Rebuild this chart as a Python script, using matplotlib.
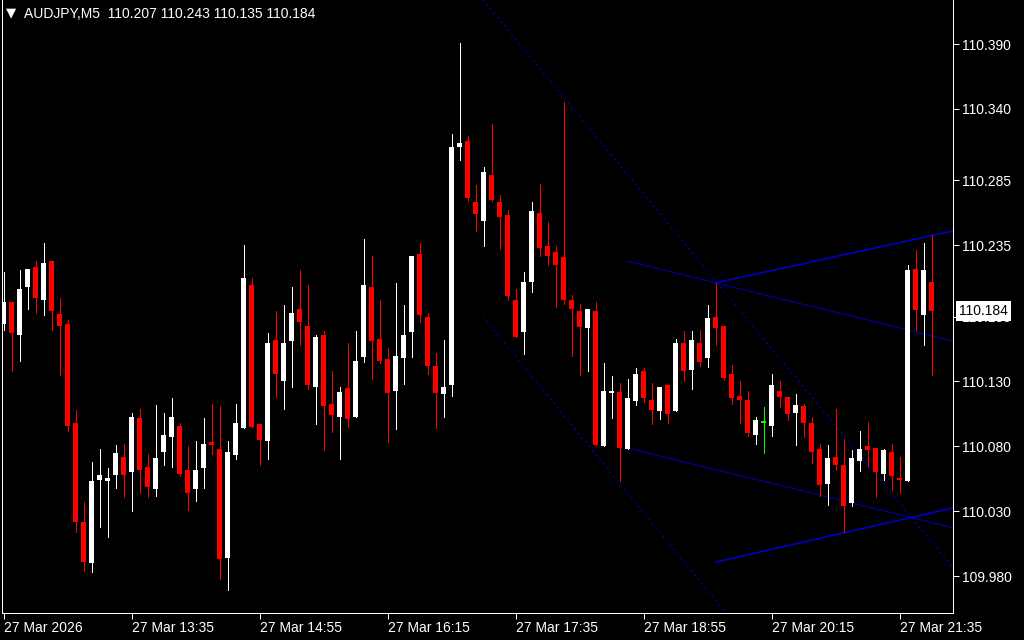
"""
AUDJPY M5 candlestick chart, MetaTrader style (black background).
"""

import numpy as np
import matplotlib
matplotlib.use("Agg")
import matplotlib.pyplot as plt
import matplotlib.transforms as mtransforms

plt.rcParams["font.family"] = ["Liberation Sans", "DejaVu Sans"]

# ── Data: 5-minute candles, 27 Mar 12:15 → 21:55 ─────────────────────────────
SYMBOL = "AUDJPY,M5"

OPEN = [
    110.174, 110.191, 110.166, 110.203, 110.218, 110.193, 110.223, 110.182, 110.174, 110.098,
    110.022, 109.990, 110.054, 110.053, 110.058, 110.072, 110.060, 110.102, 110.064, 110.047,
    110.076, 110.087, 110.096, 110.062, 110.047, 110.063, 110.083, 110.078, 109.994, 110.073,
    110.094, 110.204, 110.097, 110.084, 110.162, 110.130, 110.161, 110.186, 110.173, 110.126,
    110.166, 110.113, 110.103, 110.125, 110.103, 110.149, 110.203, 110.163, 110.147, 110.123,
    110.148, 110.168, 110.228, 110.180, 110.142, 110.120, 110.127, 110.311, 110.315, 110.268,
    110.254, 110.289, 110.268, 110.258, 110.193, 110.168, 110.207, 110.260, 110.234, 110.230,
    110.226, 110.193, 110.184, 110.171, 110.184, 110.080, 110.121, 110.122, 110.078, 110.115,
    110.138, 110.116, 110.107, 110.127, 110.107, 110.160, 110.139, 110.160, 110.148, 110.180,
    110.173, 110.136, 110.119, 110.116, 110.089, 110.099, 110.096, 110.123, 110.118, 110.106,
    110.111, 110.098, 110.078, 110.051, 110.072, 110.066, 110.036, 110.069, 110.080, 110.079,
    110.059, 110.076, 110.056, 110.053, 110.217, 110.181, 110.207,
]
HIGH = [
    110.214, 110.191, 110.216, 110.217, 110.223, 110.237, 110.223, 110.194, 110.177, 110.108,
    110.037, 110.068, 110.078, 110.063, 110.081, 110.082, 110.106, 110.109, 110.074, 110.112,
    110.106, 110.117, 110.098, 110.080, 110.084, 110.102, 110.113, 110.111, 110.084, 110.113,
    110.235, 110.210, 110.097, 110.167, 110.184, 110.189, 110.203, 110.216, 110.204, 110.166,
    110.169, 110.138, 110.126, 110.160, 110.169, 110.240, 110.227, 110.193, 110.156, 110.206,
    110.189, 110.227, 110.237, 110.183, 110.152, 110.162, 110.321, 110.391, 110.319, 110.281,
    110.295, 110.328, 110.274, 110.262, 110.201, 110.214, 110.268, 110.282, 110.253, 110.234,
    110.345, 110.197, 110.190, 110.186, 110.191, 110.144, 110.134, 110.129, 110.132, 110.140,
    110.140, 110.129, 110.126, 110.127, 110.163, 110.169, 110.169, 110.170, 110.189, 110.206,
    110.173, 110.143, 110.130, 110.123, 110.103, 110.110, 110.136, 110.130, 110.118, 110.120,
    110.113, 110.103, 110.082, 110.081, 110.109, 110.086, 110.077, 110.092, 110.099, 110.079,
    110.078, 110.082, 110.072, 110.220, 110.231, 110.237, 110.243,
]
LOW = [
    110.170, 110.138, 110.146, 110.186, 110.183, 110.181, 110.170, 110.135, 110.092, 110.014,
    109.984, 109.983, 110.018, 110.010, 110.048, 110.041, 110.030, 110.044, 110.041, 110.042,
    110.066, 110.064, 110.057, 110.031, 110.038, 110.048, 110.074, 109.978, 109.969, 110.070,
    110.094, 110.095, 110.066, 110.070, 110.118, 110.109, 110.126, 110.158, 110.124, 110.097,
    110.077, 110.091, 110.070, 110.095, 110.103, 110.145, 110.132, 110.144, 110.083, 110.093,
    110.128, 110.149, 110.176, 110.136, 110.094, 110.103, 110.119, 110.301, 110.269, 110.246,
    110.234, 110.269, 110.232, 110.193, 110.164, 110.151, 110.199, 110.227, 110.220, 110.187,
    110.190, 110.150, 110.135, 110.138, 110.081, 110.080, 110.102, 110.053, 110.078, 110.112,
    110.114, 110.097, 110.101, 110.098, 110.107, 110.130, 110.124, 110.142, 110.141, 110.158,
    110.131, 110.113, 110.098, 110.088, 110.082, 110.075, 110.088, 110.110, 110.100, 110.081,
    110.087, 110.067, 110.042, 110.035, 110.062, 110.014, 110.034, 110.061, 110.065, 110.041,
    110.054, 110.046, 110.044, 110.053, 110.170, 110.158, 110.135,
]
CLOSE = [
    110.191, 110.167, 110.201, 110.217, 110.194, 110.221, 110.184, 110.173, 110.096, 110.022,
    109.991, 110.053, 110.058, 110.056, 110.075, 110.058, 110.103, 110.062, 110.049, 110.071,
    110.089, 110.103, 110.059, 110.044, 110.062, 110.082, 110.081, 109.993, 110.076, 110.098,
    110.210, 110.095, 110.085, 110.160, 110.136, 110.160, 110.183, 110.176, 110.127, 110.164,
    110.111, 110.104, 110.122, 110.101, 110.146, 110.204, 110.161, 110.146, 110.121, 110.150,
    110.166, 110.227, 110.181, 110.142, 110.121, 110.126, 110.311, 110.314, 110.271, 110.259,
    110.291, 110.270, 110.257, 110.196, 110.164, 110.207, 110.261, 110.233, 110.227, 110.220,
    110.193, 110.186, 110.172, 110.186, 110.081, 110.123, 110.123, 110.079, 110.117, 110.136,
    110.117, 110.108, 110.126, 110.105, 110.160, 110.138, 110.162, 110.145, 110.179, 110.171,
    110.133, 110.117, 110.116, 110.090, 110.100, 110.099, 110.127, 110.118, 110.105, 110.112,
    110.098, 110.076, 110.050, 110.071, 110.066, 110.034, 110.071, 110.078, 110.077, 110.060,
    110.077, 110.057, 110.054, 110.216, 110.185, 110.216, 110.184,
]

# x-axis labels every 16 bars (80 minutes)
TIME_TICK_IDX = [0, 16, 32, 48, 64, 80, 96, 112]
TIME_LABELS = ["27 Mar 2026", "27 Mar 13:35", "27 Mar 14:55", "27 Mar 16:15",
               "27 Mar 17:35", "27 Mar 18:55", "27 Mar 20:15", "27 Mar 21:35"]

# right-hand price scale
PRICE_TICKS = [110.390, 110.340, 110.285, 110.235, 110.180,
               110.130, 110.080, 110.030, 109.980]

# trend objects: (bar index, price) start / end
SOLID_X0 = [77.94, 77.94, 88.94, 89.06]
SOLID_P0 = [110.2228, 110.0788, 110.2059, 109.9909]
SOLID_X1 = [118.63, 118.63, 118.63, 118.63]
SOLID_P1 = [110.1612, 110.0174, 110.2459, 110.0325]
SOLID_LW = [0.72, 0.72, 1.3, 1.3]

DOT_X0 = [59.94, 59.94]
DOT_P0 = [110.4239, 110.1797]
DOT_X1 = [118.63, 118.63]
DOT_P1 = [109.9871, 109.7390]

# ── Colours ───────────────────────────────────────────────────────────────────
BG = "black"
FG = "white"
BULL = "#ffffff"
BEAR = "#ff0000"
DOJI = "#00ff00"
LINE_BLUE = "#0000b4"

# ── Figure / axes (pixel layout of the terminal window) ──────────────────────
W, H = 1024, 640
fig = plt.figure(figsize=(W / 100, H / 100), dpi=100, facecolor=BG)
ax = fig.add_axes([2 / W, (H - 612.5) / H, (952.5 - 2) / W, 612.5 / H])
ax.set_facecolor(BG)

o = np.array(OPEN)
h = np.array(HIGH)
l = np.array(LOW)
c = np.array(CLOSE)
x = np.arange(len(o))

colors = np.where(c > o, BULL, np.where(c < o, BEAR, DOJI))

# wicks
ax.vlines(x, l, h, colors=colors, linewidth=0.72, antialiased=False, zorder=3)
# bodies (at least one pixel tall)
min_h = 0.0014
body_lo = np.minimum(o, c)
body_h = np.maximum(np.abs(c - o), min_h)
body_bottom = np.where(np.abs(c - o) < min_h, body_lo - min_h / 2, body_lo)
ax.bar(x, body_h, bottom=body_bottom, width=0.625,
       color=colors, edgecolor="none", linewidth=0, antialiased=False, zorder=4)

# trend objects
for x0, p0, x1, p1, lw in zip(SOLID_X0, SOLID_P0, SOLID_X1, SOLID_P1, SOLID_LW):
    ax.plot([x0, x1], [p0, p1], color=LINE_BLUE, linewidth=lw, zorder=2)
for x0, p0, x1, p1 in zip(DOT_X0, DOT_P0, DOT_X1, DOT_P1):
    ax.plot([x0, x1], [p0, p1], color="#0000c8", linewidth=1.0,
            linestyle=(0, (1.2, 2.8)), zorder=2)

ax.set_xlim(-0.1875, 118.625)
ax.set_ylim(109.952, 110.4239)

# ── Axes styling ──────────────────────────────────────────────────────────────
for side in ["left", "right", "bottom"]:
    ax.spines[side].set_color(FG)
    ax.spines[side].set_linewidth(0.72)
ax.spines["top"].set_visible(False)

ax.set_yticks(PRICE_TICKS)
ax.set_yticklabels([f"{p:.3f}" for p in PRICE_TICKS])
ax.tick_params(axis="y", direction="out", length=4, width=0.72, colors=FG,
               labelsize=10, pad=2.5, left=False, right=True,
               labelleft=False, labelright=True)

ax.set_xticks(TIME_TICK_IDX)
ax.set_xticklabels(TIME_LABELS, ha="left")
ax.tick_params(axis="x", direction="out", length=4, width=0.72, colors=FG,
               labelsize=10, pad=2)

# current price marker on the scale
last = CLOSE[-1]
trans = mtransforms.blended_transform_factory(ax.transAxes, ax.transData)
ax.text(1 + 6.5 / 950.5, last, f"{last:.3f}", transform=trans, ha="left", va="center",
        color="black", fontsize=10, clip_on=False, zorder=10,
        bbox=dict(boxstyle="square,pad=0.22", fc="white", ec="none"))

# header: symbol + OHLC of last bar
fig.text(6 / W, 1 - 13 / H, "▼", color=FG, fontsize=9.5, va="center", ha="left",
         family="DejaVu Sans")
fig.text(24 / W, 1 - 14 / H,
         f"{SYMBOL}  {OPEN[-1]:.3f} {HIGH[-1]:.3f} {LOW[-1]:.3f} {CLOSE[-1]:.3f}",
         color=FG, fontsize=10, va="center", ha="left")

fig.savefig("out.png", dpi=100, facecolor=BG)
